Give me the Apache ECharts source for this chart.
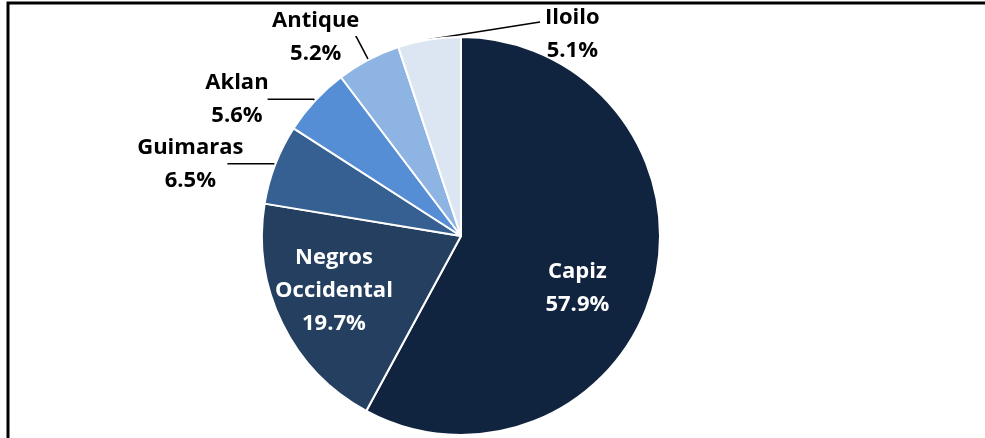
<!DOCTYPE html>
<html>
<head>
<meta charset="utf-8">
<script src="https://cdn.jsdelivr.net/npm/echarts@6/dist/echarts.min.js"></script>
<style>
  html, body { margin: 0; padding: 0; background: #fff; }
  #chart { width: 985px; height: 438px; }
</style>
</head>
<body>
<div id="chart"></div>
<script>
// Data
const provinces = ['Capiz', 'Negros\nOccidental', 'Guimaras', 'Aklan', 'Antique', 'Iloilo'];
const shares = [57.9, 19.7, 6.5, 5.6, 5.2, 5.1];

// Styles
const sliceColors = ['#10243f', '#253f60', '#376092', '#558ed5', '#8eb4e3', '#dce6f2'];
const insideLabel = [true, true, false, false, false, false];
const lineLen = [0, 0, [2, 46], [2, 46], [26, 1], [20, 20]];
const labelAdjust = [
  { dx: 17, dy: 27 },
  { dx: -35, dy: 10 },
  { dx: 20, keepLine: true },
  { dx: 5, keepLine: true },
  { dx: 8, keepLine: true },
  { x: 545, y: 34, align: 'left', verticalAlign: 'middle', lineEnd: [540, 22] }
];

const fontFamily = '"Open Sans", "Noto Sans", sans-serif';

const data = provinces.map((name, i) => {
  const item = {
    name: name,
    value: shares[i],
    itemStyle: { color: sliceColors[i] }
  };
  if (insideLabel[i]) {
    item.label = { position: 'inside', color: '#fff' };
    item.labelLine = { show: false };
  } else {
    item.labelLine = { show: true, length: lineLen[i][0], length2: lineLen[i][1] };
  }
  return item;
});

const chart = echarts.init(document.getElementById('chart'), null, { renderer: 'canvas' });
chart.setOption({
  animation: false,
  backgroundColor: '#fff',
  graphic: [{
    type: 'rect',
    shape: { x: 8, y: 3, width: 1200, height: 800 },
    style: { fill: 'none', stroke: '#000', lineWidth: 3 },
    z: 100
  }],
  series: [{
    type: 'pie',
    center: [461, 236],
    radius: [0, 199],
    startAngle: 90,
    clockwise: true,
    avoidLabelOverlap: false,
    itemStyle: { borderColor: '#fff', borderWidth: 2 },
    label: {
      show: true,
      position: 'outside',
      color: '#000',
      fontFamily: fontFamily,
      fontWeight: 'bold',
      fontSize: 22,
      lineHeight: 33,
      distanceToLabelLine: 4,
      formatter: function (p) {
        return p.name.split('\n').map(s => '{a|' + s + '}').join('\n') + '\n{a|' + p.value.toFixed(1) + '%}';
      },
      rich: {
        a: {
          align: 'center',
          fontFamily: fontFamily,
          fontWeight: 'bold',
          fontSize: 22,
          lineHeight: 33
        }
      }
    },
    labelLine: {
      lineStyle: { color: '#000', width: 1.5 }
    },
    labelLayout: function (p) {
      const src = labelAdjust[p.dataIndex];
      const out = {};
      ['x', 'y', 'dx', 'dy', 'align', 'verticalAlign'].forEach(k => {
        if (src[k] != null) out[k] = src[k];
      });
      if (src.keepLine && p.labelLinePoints) {
        out.labelLinePoints = p.labelLinePoints.map(pt => pt.slice());
      }
      if (src.lineEnd && p.labelLinePoints) {
        out.labelLinePoints = [p.labelLinePoints[0].slice(), src.lineEnd.slice()];
      }
      return out;
    },
    data: data
  }]
});
</script>
</body>
</html>
